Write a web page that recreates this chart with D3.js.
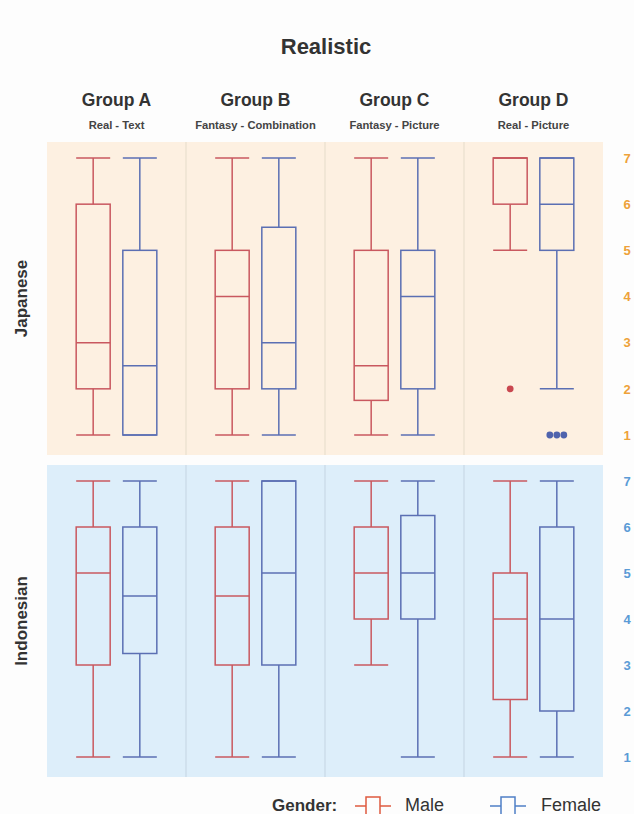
<!DOCTYPE html>
<html>
<head>
<meta charset="utf-8">
<script src="https://cdn.jsdelivr.net/npm/d3@7"></script>
<style>
  html, body { margin: 0; padding: 0; background: #fdfdfd; }
  svg { display: block; font-family: "Liberation Sans", Arial, Helvetica, sans-serif; }
</style>
</head>
<body>
<svg id="chart" width="634" height="814"></svg>
<script>
// Groups, their condition labels, and the two rows of the grid
const groups = ["Group A", "Group B", "Group C", "Group D"];
const groupConditions = ["Real - Text", "Fantasy - Combination", "Fantasy - Picture", "Real - Picture"];
const nationalities = ["Japanese", "Indonesian"];
const genders = ["Male", "Female"];
const yTicks = [1, 2, 3, 4, 5, 6, 7];

// Five-number summaries per group: [min, q1, median, q3, max]
const japaneseMale = [
  [1, 2, 3, 6, 7],
  [1, 2, 4, 5, 7],
  [1, 1.75, 2.5, 5, 7],
  [5, 6, 7, 7, 7]
];
const japaneseFemale = [
  [1, 1, 2.5, 5, 7],
  [1, 2, 3, 5.5, 7],
  [1, 2, 4, 5, 7],
  [2, 5, 6, 7, 7]
];
const indonesianMale = [
  [1, 3, 5, 6, 7],
  [1, 3, 4.5, 6, 7],
  [3, 4, 5, 6, 7],
  [1, 2.25, 4, 5, 7]
];
const indonesianFemale = [
  [1, 3.25, 4.5, 6, 7],
  [1, 3, 5, 7, 7],
  [1, 4, 5, 6.25, 7],
  [1, 2, 4, 6, 7]
];

// Outlying responses: [group index, gender, value]
const japaneseOutliers = [[3, "Male", 2], [3, "Female", 1], [3, "Female", 1], [3, "Female", 1]];
const indonesianOutliers = [];

const rows = [
  { name: "Japanese", male: japaneseMale, female: japaneseFemale, outliers: japaneseOutliers,
    bg: "#fdf0e1", divider: "#eadfce", tick: "#eea23a", top: 142, bottom: 455 },
  { name: "Indonesian", male: indonesianMale, female: indonesianFemale, outliers: indonesianOutliers,
    bg: "#ddeefa", divider: "#c9d9e6", tick: "#5b9bd6", top: 465, bottom: 777 }
];

const colors = { Male: "#c9585f", Female: "#5b6fb3" };
const legendColors = { Male: "#de5a3f", Female: "#4f7fc6" };

const svg = d3.select("#chart");
const panelLeft = 47, panelRight = 603;

const x = d3.scaleBand().domain(groups).range([panelLeft, panelRight]).padding(0);
const xInner = d3.scalePoint().domain(genders).range([0, x.bandwidth()]).padding(0.99);
const boxW = 34;

// Title and column headers
svg.append("text")
  .attr("x", 326).attr("y", 54)
  .attr("text-anchor", "middle")
  .attr("font-size", 22).attr("font-weight", "bold").attr("fill", "#333")
  .text("Realistic");

groups.forEach((g, i) => {
  const cx = x(g) + x.bandwidth() / 2;
  svg.append("text")
    .attr("x", cx).attr("y", 106)
    .attr("text-anchor", "middle")
    .attr("font-size", 17.5).attr("font-weight", "bold").attr("fill", "#333")
    .text(g);
  svg.append("text")
    .attr("x", cx).attr("y", 129)
    .attr("text-anchor", "middle")
    .attr("font-size", 11.2).attr("font-weight", "bold").attr("fill", "#444")
    .text(groupConditions[i]);
});

rows.forEach(row => {
  const y = d3.scaleLinear().domain([1, 7]).range([row.bottom - 20, row.top + 16]);
  const g = svg.append("g");

  g.append("rect")
    .attr("x", panelLeft).attr("y", row.top)
    .attr("width", panelRight - panelLeft).attr("height", row.bottom - row.top)
    .attr("fill", row.bg);

  groups.slice(1).forEach(grp => {
    g.append("line")
      .attr("x1", x(grp)).attr("x2", x(grp))
      .attr("y1", row.top).attr("y2", row.bottom)
      .attr("stroke", row.divider).attr("stroke-width", 1.2);
  });

  // Row label
  g.append("text")
    .attr("transform", `translate(27,${(row.top + row.bottom) / 2}) rotate(-90)`)
    .attr("text-anchor", "middle")
    .attr("font-size", 17).attr("font-weight", "bold").attr("fill", "#333")
    .text(row.name);

  // Right-hand value axis
  const axis = d3.axisRight(y).tickValues(yTicks).tickSize(0).tickPadding(0).tickFormat(d3.format("d"));
  const ax = g.append("g").attr("transform", `translate(627,0)`).call(axis);
  ax.select(".domain").remove();
  ax.selectAll("text")
    .attr("x", 0).attr("text-anchor", "middle")
    .attr("font-size", 13).attr("font-weight", "bold")
    .attr("fill", row.tick)
    .style("font-family", "'Liberation Sans', Arial, sans-serif");

  // Boxes
  genders.forEach(gender => {
    const stats = gender === "Male" ? row.male : row.female;
    stats.forEach((s, i) => {
      const [mn, q1, med, q3, mx] = s;
      const cx = x(groups[i]) + xInner(gender);
      const col = colors[gender];
      const bg = g.append("g").attr("stroke", col).attr("stroke-width", 1.5).attr("fill", "none");
      bg.append("line").attr("x1", cx).attr("x2", cx).attr("y1", y(mx)).attr("y2", y(q3));
      bg.append("line").attr("x1", cx).attr("x2", cx).attr("y1", y(q1)).attr("y2", y(mn));
      bg.append("line").attr("x1", cx - boxW / 2).attr("x2", cx + boxW / 2).attr("y1", y(mx)).attr("y2", y(mx));
      bg.append("line").attr("x1", cx - boxW / 2).attr("x2", cx + boxW / 2).attr("y1", y(mn)).attr("y2", y(mn));
      bg.append("rect")
        .attr("x", cx - boxW / 2).attr("y", y(q3))
        .attr("width", boxW).attr("height", y(q1) - y(q3));
      bg.append("line").attr("x1", cx - boxW / 2).attr("x2", cx + boxW / 2).attr("y1", y(med)).attr("y2", y(med));
    });
  });

  // Outliers, spread sideways when several share a value
  const byKey = d3.group(row.outliers, d => d[0] + "|" + d[1] + "|" + d[2]);
  byKey.forEach(pts => {
    const n = pts.length;
    pts.forEach((p, k) => {
      const [gi, gender, v] = p;
      const cx = x(groups[gi]) + xInner(gender) + (k - (n - 1) / 2) * 7;
      g.append("circle")
        .attr("cx", cx).attr("cy", y(v)).attr("r", 3.4)
        .attr("fill", gender === "Male" ? "#c9474f" : "#4f63ad");
    });
  });
});

// Legend
const legend = svg.append("g");
legend.append("text")
  .attr("x", 272).attr("y", 811)
  .attr("font-size", 17).attr("font-weight", "bold").attr("fill", "#333")
  .text("Gender:");

const legendItems = [
  { gender: "Male", x0: 355, tx: 405 },
  { gender: "Female", x0: 490, tx: 541 }
];
legendItems.forEach(it => {
  const c = legendColors[it.gender];
  const lg = legend.append("g").attr("stroke", c).attr("stroke-width", 1.5).attr("fill", "none");
  lg.append("line").attr("x1", it.x0).attr("x2", it.x0 + 11).attr("y1", 806).attr("y2", 806);
  lg.append("rect").attr("x", it.x0 + 11).attr("y", 797).attr("width", 14).attr("height", 24);
  lg.append("line").attr("x1", it.x0 + 25).attr("x2", it.x0 + 36).attr("y1", 806).attr("y2", 806);
  legend.append("text")
    .attr("x", it.tx).attr("y", 811)
    .attr("font-size", 18).attr("fill", "#333")
    .text(it.gender);
});
</script>
</body>
</html>
